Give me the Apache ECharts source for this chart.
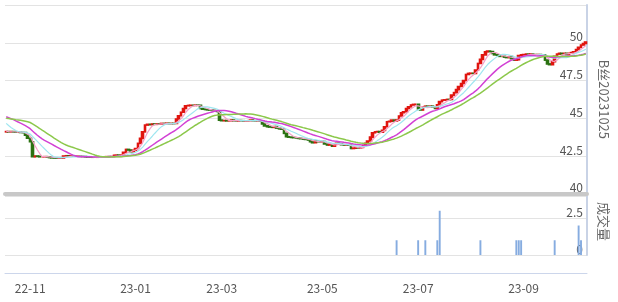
<!DOCTYPE html>
<html><head><meta charset="utf-8">
<script src="https://cdn.jsdelivr.net/npm/echarts/dist/echarts.min.js"></script>
<style>html,body{margin:0;padding:0;background:#fff}#c{width:618px;height:302px}</style>
</head><body><div id="c"></div>
<script>
// trading calendar (categories)
const startDate = '2022-10-18';
const endDate = '2023-10-17';
const holidays = ['2023-01-02','2023-01-23','2023-01-24','2023-01-25','2023-01-26','2023-01-27',
  '2023-04-05','2023-05-01','2023-05-02','2023-05-03','2023-06-22','2023-06-23',
  '2023-09-29','2023-10-02','2023-10-03','2023-10-04','2023-10-05','2023-10-06'];

// closes before the visible window (only used for the moving averages)
const preCloses = [44.70,44.75,44.80,44.85,44.80,44.78,44.82,44.85,44.80,44.85,
  45.30,45.40,45.50,45.60,45.65,45.60,45.55,45.60,45.60,45.60,
  45.50,45.40,45.20,45.00,44.75,
  44.30,44.15,44.10,44.10];

// daily closes (visible window)
const closes = [
  44.12,44.10,44.12,44.10,44.08,44.08,44.06,44.05,
  43.88,43.68,43.45,42.45,
  42.50,42.48,42.45,42.45,42.46,42.44,42.40,
  42.38,42.37,42.36,42.38,42.37,42.50,
  42.52,42.50,42.51,42.50,42.49,42.50,42.48,
  42.47,42.45,42.44,42.43,42.42,42.42,42.44,42.43,
  42.45,42.43,42.46,42.44,42.46,42.55,42.56,42.55,
  42.56,42.75,42.94,
  42.90,42.78,42.88,
  43.00,43.34,43.67,44.10,44.55,
  44.60,44.58,44.62,44.60,44.63,44.62,
  44.66,44.65,44.67,44.64,44.66,44.65,
  44.95,45.17,45.40,45.65,45.83,
  45.85,45.86,45.85,45.87,45.86,
  45.65,45.60,45.58,45.56,45.55,45.52,45.50,45.45,
  44.88,
  44.84,44.85,44.83,44.84,44.88,44.84,44.83,44.85,44.84,44.82,44.83,44.84,44.88,44.84,44.83,44.84,44.83,
  44.62,44.50,44.44,
  44.42,44.40,44.45,44.35,44.30,44.28,
  44.00,43.78,
  43.75,43.73,43.72,43.70,43.67,43.65,43.62,43.60,43.56,
  43.45,43.38,43.50,
  43.45,43.44,43.46,43.30,43.23,43.25,43.15,
  43.28,43.35,43.30,43.25,43.23,43.24,43.22,
  43.00,43.02,43.05,43.04,43.07,
  43.20,43.34,43.50,43.75,44.04,
  44.10,44.12,44.08,44.20,44.44,44.77,
  44.80,44.88,44.82,44.88,
  45.15,45.37,45.43,45.65,45.76,
  45.88,45.92,45.92,
  45.62,45.55,45.75,45.80,45.78,45.80,45.76,45.65,
  45.90,46.10,46.20,46.22,46.25,46.24,
  46.53,46.70,46.90,47.10,47.30,47.50,47.90,
  47.97,47.98,47.97,
  48.20,48.63,48.90,49.20,49.40,
  49.45,49.42,
  49.30,49.20,49.18,49.10,49.10,49.05,
  49.02,49.08,48.95,48.85,48.88,
  49.15,49.20,49.22,49.25,49.20,49.25,49.22,49.20,
  49.22,49.18,49.20,
  48.85,48.60,48.55,48.75,49.10,
  49.25,49.30,49.28,49.30,49.22,
  49.30,49.35,49.40,
  49.55,49.70,49.85,49.95,50.05
];

// volume (成交量)
const volumeDates = ['2023-06-16','2023-07-03','2023-07-06','2023-07-13','2023-07-14','2023-08-08',
  '2023-08-29','2023-08-30','2023-08-31','2023-09-20','2023-10-12','2023-10-13'];
const volumeValues = [1,1,1,1,3,1,1,1,1,1,2,1];

const maPeriods = [5,10,20,30];
const maColors = ['#f4a0c9','#9fe6f0','#d241d4','#8cc84b'];
const maWidths = [1.2,1.2,1.5,1.5];

function buildDates(){
  const out=[]; let d=new Date(startDate+'T00:00:00Z'); const e=new Date(endDate+'T00:00:00Z');
  while(d<=e){ const wd=d.getUTCDay(); const s=d.toISOString().slice(0,10);
    if(wd!==0&&wd!==6&&holidays.indexOf(s)<0) out.push(s);
    d=new Date(d.getTime()+86400000); }
  return out;
}
const dates = buildDates();
const full = preCloses.concat(closes);
function ma(n){
  return closes.map((_,i)=>{ const j=i+preCloses.length; let s=0; for(let k=j-n+1;k<=j;k++) s+=full[k]; return +(s/n).toFixed(4); });
}
const candles = closes.map((c,i)=>{ const o = i===0 ? preCloses[preCloses.length-1] : closes[i-1];
  return [o, c, Math.min(o,c), Math.max(o,c)]; });
const volume = dates.map(d=>{ const k=volumeDates.indexOf(d); return k<0 ? null : volumeValues[k]; });
const labelFlags = dates.map((d,i)=>{ const m=+d.slice(5,7); return i>0 && m%2===1 && dates[i-1].slice(5,7)!==d.slice(5,7); });
const labelInt = (idx)=>labelFlags[idx];

const font = "'Noto Sans CJK SC', sans-serif";
const chart = echarts.init(document.getElementById('c'));
chart.setOption({
  animation:false,
  textStyle:{fontFamily:font},
  grid:[{left:5,right:31,top:5,height:188.8},{left:5,right:31,top:196,height:59}],
  xAxis:[
    {type:'category',gridIndex:0,data:dates,boundaryGap:true,
     axisLine:{onZero:false,lineStyle:{color:'#c8c8c8',width:4}},axisTick:{show:false},axisLabel:{show:false},splitLine:{show:false}},
    {type:'category',gridIndex:1,data:dates,boundaryGap:true,offset:18,
     axisLine:{onZero:false,lineStyle:{color:'#ccd6eb',width:1}},
     axisTick:{interval:labelInt,alignWithLabel:true,length:9,lineStyle:{color:'#ccd6eb'}},
     axisLabel:{interval:labelInt,formatter:v=>v.slice(2,7),color:'#555',fontSize:12,margin:9,fontFamily:font},
     splitLine:{show:false}}
  ],
  yAxis:[
    {type:'value',gridIndex:0,position:'right',min:40,max:52.5,interval:2.5,
     name:'B丝20231025',nameLocation:'middle',nameRotate:-90,nameGap:10,
     nameTextStyle:{color:'#666',fontSize:13,fontFamily:font},
     axisLine:{show:true,lineStyle:{color:'#c9d3e6',width:2}},axisTick:{show:false},
     axisLabel:{inside:true,showMaxLabel:false,verticalAlign:'bottom',color:'#555',fontSize:12,margin:4,fontFamily:font},
     splitLine:{lineStyle:{color:'#e3e3e3'}}},
    {type:'value',gridIndex:1,position:'right',min:0,max:4,interval:2.5,
     name:'成交量',nameLocation:'middle',nameRotate:-90,nameGap:10,
     nameTextStyle:{color:'#666',fontSize:13,fontFamily:font,padding:[0,8,0,0]},
     axisLine:{show:true,lineStyle:{color:'#c9d3e6',width:2}},axisTick:{show:false},
     axisLabel:{inside:true,showMaxLabel:false,verticalAlign:'bottom',color:'#555',fontSize:12,margin:4,fontFamily:font},
     splitLine:{lineStyle:{color:'#e3e3e3'}}}
  ],
  series: maPeriods.map((p,k)=>({type:'line',name:'MA'+p,xAxisIndex:0,yAxisIndex:0,data:ma(p),
      symbol:'none',silent:true,lineStyle:{color:maColors[k],width:maWidths[k]},itemStyle:{color:maColors[k]}}))
    .concat([
      {type:'candlestick',xAxisIndex:0,yAxisIndex:0,data:candles,barWidth:'95%',silent:true,
       itemStyle:{color:'#e0140f',color0:'#2b7212',borderColor:'#e0140f',borderColor0:'#2b7212',borderWidth:1.6}},
      {type:'bar',xAxisIndex:1,yAxisIndex:1,data:volume,barWidth:'80%',silent:true,itemStyle:{color:'#86ace0'}}
    ])
});
</script></body></html>
